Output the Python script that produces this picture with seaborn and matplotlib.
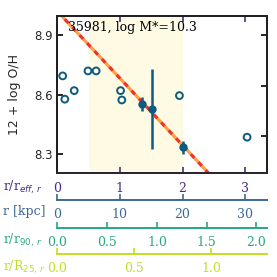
import numpy as np
import matplotlib
matplotlib.use("Agg")
import matplotlib.pyplot as plt
import seaborn as sns

# --- data ---
# open circles: individual HII regions (x in r/r_eff, y in 12+log O/H)
open_x = [0.086, 0.12, 0.27, 0.49, 0.62, 1.01, 1.03, 1.95, 3.03]
open_y = [8.694, 8.577, 8.620, 8.719, 8.719, 8.620, 8.573, 8.595, 8.386]

# filled points with error bars
bin_x = [1.35, 1.51, 2.01]
bin_y = [8.552, 8.527, 8.336]
bin_err = [0.035, 0.20, 0.033]

# gradient fit line (two points on it)
fit_x = [0.0, 2.6]
fit_y = [9.019, 8.143]

# shaded fitting range
fit_range = (0.5, 2.0)

# scale factors between the radial units
R_EFF_KPC = 10.0     # kpc per r_eff
R90_IN_REFF = 1.59   # r_90 in units of r_eff
R25_IN_REFF = 2.46   # R_25 in units of r_eff

label_text = "35981, log M*=10.3"

c_pts = "#0e5a80"
c_reff = "#4a2a84"
c_kpc = "#3c6896"
c_r90 = "#27a883"
c_r25 = "#c2df26"

sns.set_theme(style="white")
plt.rcParams["font.family"] = ["DejaVu Serif"]
plt.rcParams["mathtext.fontset"] = "dejavusans"

W = 277
fig = plt.figure(figsize=(2.77, 2.77), dpi=100)
left, right, top, bottom = 57.3, 266.5, 16, 173
ax = fig.add_axes([left / W, 1 - bottom / W, (right - left) / W, (bottom - top) / W])

ax.axvspan(*fit_range, color="#fffae3", lw=0, zorder=0)

ax.plot(fit_x, fit_y, color="#ee3322", gapcolor="#ffa040", lw=2.3,
        linestyle=(0, (1.7, 1.7)), zorder=2)

sns.scatterplot(x=open_x, y=open_y, ax=ax, marker="o", s=24,
                facecolor="none", edgecolor=c_pts, linewidth=1.4, zorder=3)
ax.errorbar(bin_x, bin_y, yerr=bin_err, fmt="o", color=c_pts, ms=5,
            elinewidth=1.8, capsize=0, zorder=4)

ax.set_xlim(0, 3.34)
ax.set_ylim(8.206, 8.995)
ax.set_yticks([8.3, 8.6, 8.9])
ax.set_yticklabels(["8.3", "8.6", "8.9"], fontfamily="DejaVu Sans", fontsize=8.5)
ax.set_xticks([0, 1, 2, 3])
ax.set_xticklabels(["0", "1", "2", "3"], fontsize=9)
ax.tick_params(axis="y", direction="in", length=4, width=1.2, color="black", pad=3, left=True)
ax.tick_params(axis="x", direction="in", length=4, width=1.2, colors=c_reff, pad=6.5,
               top=True, bottom=True)
for sp in ["top", "left", "right"]:
    ax.spines[sp].set_color("black")
    ax.spines[sp].set_linewidth(1.4)
ax.spines["bottom"].set_color(c_reff)
ax.spines["bottom"].set_linewidth(1.4)
for t in ax.xaxis.get_ticklines()[1::2]:
    t.set_color("black")

ax.set_ylabel("12 + log O/H", fontfamily="DejaVu Sans", fontsize=9, labelpad=10)

# right-hand ticks (unlabelled twin scale)
axr = ax.twinx()
axr.set_ylim(8.427, 8.7376)
axr.set_yticks([8.5, 8.6, 8.7])
axr.set_yticklabels([])
axr.tick_params(axis="y", direction="in", length=4, width=1.2, color="black", right=True)
axr.grid(False)

ax.text(0.05, 0.965, label_text, transform=ax.transAxes, ha="left", va="top",
        fontsize=9, color="black", zorder=5)

# secondary radial axes below the plot
h = bottom - top
secs = [
    (200.0, (lambda x: x * R_EFF_KPC, lambda x: x / R_EFF_KPC), c_kpc,
     [0, 10, 20, 30], ["0", "10", "20", "30"]),
    (228.3, (lambda x: x / R90_IN_REFF, lambda x: x * R90_IN_REFF), c_r90,
     [0, 0.5, 1.0, 1.5, 2.0], ["0.0", "0.5", "1.0", "1.5", "2.0"]),
    (254.3, (lambda x: x / R25_IN_REFF, lambda x: x * R25_IN_REFF), c_r25,
     [0, 0.5, 1.0], ["0.0", "0.5", "1.0"]),
]
for ypix, funcs, col, ticks, labels in secs:
    sec = ax.secondary_xaxis((bottom - ypix) / h, functions=funcs)
    sec.set_xticks(ticks)
    sec.set_xticklabels(labels, fontsize=9)
    sec.tick_params(direction="in", length=4, width=1.2, colors=col, pad=5.5)
    sec.spines["bottom"].set_color(col)
    sec.spines["bottom"].set_linewidth(1.4)

# unit labels on the left
names = [
    (187, r"r/r$_{eff,\,r}$", c_reff),
    (212, "r [kpc]", c_kpc),
    (240, r"r/r$_{90,\,r}$", c_r90),
    (267, r"r/R$_{25,\,r}$", c_r25),
]
for ypix, txt, col in names:
    fig.text(3 / W, 1 - ypix / W, txt, color=col, fontsize=9, ha="left", va="center")

fig.savefig("out.png", dpi=100)
